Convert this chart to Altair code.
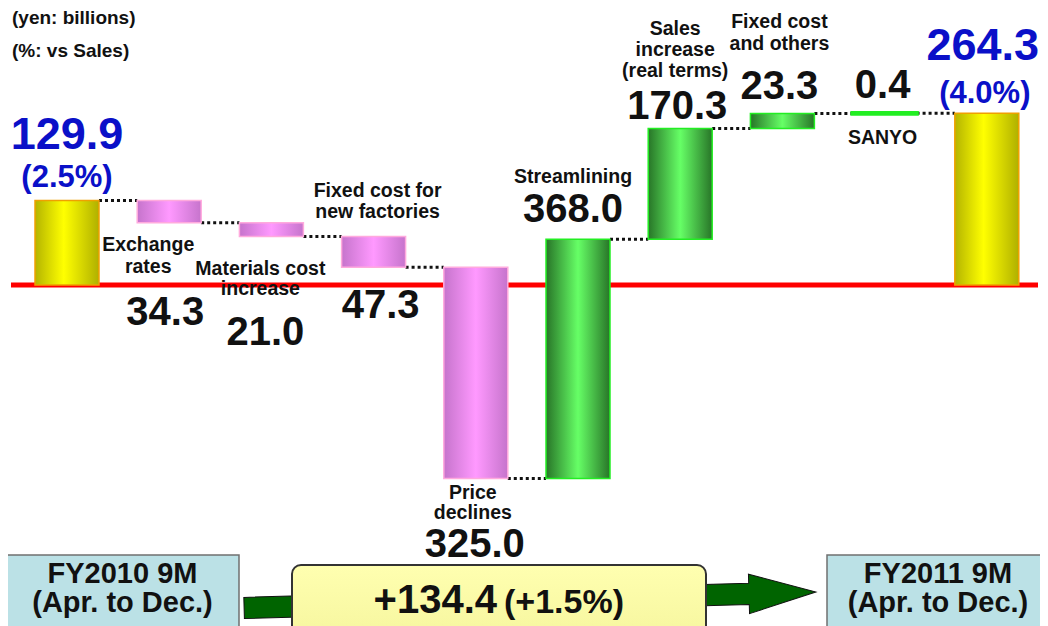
import altair as alt
import pandas as pd

# ---------------- data ----------------
steps = ["FY2010 9M", "Exchange rates", "Materials cost increase",
         "Fixed cost for new factories", "Price declines", "Streamlining",
         "Sales increase (real terms)", "Fixed cost and others", "SANYO", "FY2011 9M"]
amounts = [129.9, -34.3, -21.0, -47.3, -325.0, 368.0, 170.3, 23.3, 0.4, 264.3]
kinds = ["total", "down", "down", "down", "down", "up", "up", "up", "up", "total"]
name_lines = [[], ["Exchange", "rates"], ["Materials cost", "increase"],
              ["Fixed cost for", "new factories"], ["Price", "declines"],
              ["Streamlining"], ["Sales", "increase", "(real terms)"],
              ["Fixed cost", "and others"], ["SANYO"], []]
ratio_labels = {0: "(2.5%)", 9: "(4.0%)"}
unit_notes = ["(yen: billions)", "(%: vs Sales)"]
period_from = ["FY2010 9M", "(Apr. to Dec.)"]
period_to = ["FY2011 9M", "(Apr. to Dec.)"]
change_value = "+134.4"
change_ratio = "(+1.5%)"

# ---------------- layout / style ----------------
W, H = 1032, 618
STEP_PX = 102.2          # distance between bar centres
FIRST_PX = 59            # first bar centre (plot px)
HALF = 0.313             # half bar width in steps
XMIN = -FIRST_PX / STEP_PX
XMAX = XMIN + W / STEP_PX
PX_PER_UNIT = 0.65
ZERO_PX = 277
YMAX = ZERO_PX / PX_PER_UNIT
YMIN = -(H - ZERO_PX) / PX_PER_UNIT
FONT = "Liberation Sans"
BLUE = "#0a10c8"

xs = alt.Scale(domain=[XMIN, XMAX], nice=False, zero=False)
ys = alt.Scale(domain=[YMIN, YMAX], nice=False, zero=False)


def X(f):
    return alt.X(f, type="quantitative", scale=xs, axis=None)


def Y(f):
    return alt.Y(f, type="quantitative", scale=ys, axis=None)


# ---------------- derived tables ----------------
rows = []
level = 0.0
for i, (s, a, k) in enumerate(zip(steps, amounts, kinds)):
    if k == "total":
        start, end = 0.0, a
    else:
        start, end = level, level + a
    level = end
    lo, hi = min(start, end), max(start, end)
    sw = 1.5 if (hi - lo) * PX_PER_UNIT > 4 else 4.5
    rows.append(dict(i=i, step=s, kind=k, start=start, end=end, lo=lo, hi=hi,
                     x0=i - HALF, x1=i + HALF, sw=sw))
bars = pd.DataFrame(rows)

conn = pd.DataFrame([dict(x0=r["i"] + HALF, x1=r["i"] + 1 - HALF, y=r["end"])
                     for r in rows[:-1]])


def anchor(r, a):
    return {"hi": r["hi"], "lo": r["lo"], "zero": 0.0}[a]


# name labels: anchor, first baseline offset px, line spacing px, dx px
name_layout = {1: ("zero", -34, 22, -21), 2: ("zero", -10, 20, -11),
               3: ("hi", -40, 21, 4), 4: ("lo", 20, 20, -3), 5: ("hi", -56, 0, -5),
               6: ("hi", -94, 21, -5), 7: ("hi", -85, 22, -3), 8: ("lo", 31, 0, -2)}
value_layout = {0: ("hi", -52, 0), 1: ("zero", 40, -4), 2: ("zero", 60, -6),
                3: ("zero", 33, 7), 4: ("lo", 78, -1), 5: ("hi", -17, -5),
                6: ("hi", -10, -3), 7: ("hi", -14, -3), 8: ("hi", -15, -2),
                9: ("hi", -53, -4)}
ratio_layout = {0: ("hi", -14, 0), 9: ("hi", -10, -2)}

names = []
for i, lines in enumerate(name_lines):
    if not lines:
        continue
    a, off, sp, dx = name_layout[i]
    for j, t in enumerate(lines):
        names.append(dict(text=t, x=i + dx / STEP_PX,
                          y=anchor(rows[i], a) - (off + j * sp) / PX_PER_UNIT))
names = pd.DataFrame(names)

vals, tots = [], []
for i, amt in enumerate(amounts):
    a, off, dx = value_layout[i]
    d = dict(text=f"{abs(amt):.1f}", x=i + dx / STEP_PX,
             y=anchor(rows[i], a) - off / PX_PER_UNIT)
    (tots if kinds[i] == "total" else vals).append(d)
vals, tots = pd.DataFrame(vals), pd.DataFrame(tots)

ratios = pd.DataFrame([dict(text=t, x=i + ratio_layout[i][2] / STEP_PX,
                            y=anchor(rows[i], ratio_layout[i][0]) - ratio_layout[i][1] / PX_PER_UNIT)
                       for i, t in ratio_labels.items()])


def grad(stops):
    return alt.Gradient(gradient="linear", x1=0, x2=1, y1=0, y2=0,
                        stops=[alt.GradientStop(offset=o, color=c) for o, c in stops])


styles = {
    "total": (grad([(0, "#b4b400"), (0.45, "#ffff00"), (1, "#b0b000")]), "#f0a000"),
    "down": (grad([(0, "#c674cc"), (0.5, "#ff99ff"), (1, "#c674cc")]), "#ffaadd"),
    "up": (grad([(0, "#287528"), (0.5, "#66ff66"), (1, "#287528")]), "#22ee22"),
}

layers = []

# zero line
base = pd.DataFrame({"x0": [XMIN + 3 / STEP_PX], "x1": [XMAX - 2 / STEP_PX], "y": [0.0]})
layers.append(alt.Chart(base).mark_rule(color="#ff0000", strokeWidth=5)
              .encode(x=X("x0"), x2="x1", y=Y("y")))

# connectors
layers.append(alt.Chart(conn).mark_rule(color="#111111", strokeWidth=3, strokeDash=[3, 3])
              .encode(x=X("x0"), x2="x1", y=Y("y")))

# bars
for k, (fill, stroke) in styles.items():
    layers.append(alt.Chart(bars[bars.kind == k]).mark_rect(fill=fill, stroke=stroke)
                  .encode(x=X("x0"), x2="x1", y=Y("lo"), y2="hi",
                          strokeWidth=alt.StrokeWidth("sw:Q", scale=None)))

# labels
layers.append(alt.Chart(names).mark_text(font=FONT, fontWeight="bold", fontSize=19.5,
                                         color="#111111", baseline="alphabetic")
              .encode(x=X("x"), y=Y("y"), text="text"))
layers.append(alt.Chart(vals).mark_text(font=FONT, fontWeight="bold", fontSize=40,
                                        color="#111111", baseline="alphabetic")
              .encode(x=X("x"), y=Y("y"), text="text"))
layers.append(alt.Chart(tots).mark_text(font=FONT, fontWeight="bold", fontSize=45,
                                        color=BLUE, baseline="alphabetic")
              .encode(x=X("x"), y=Y("y"), text="text"))
layers.append(alt.Chart(ratios).mark_text(font=FONT, fontWeight="bold", fontSize=31,
                                          color=BLUE, baseline="alphabetic")
              .encode(x=X("x"), y=Y("y"), text="text"))

# header notes
for j, t in enumerate(unit_notes):
    layers.append(alt.Chart(pd.DataFrame({"t": [t]})).mark_text(
        font=FONT, fontWeight="bold", fontSize=19, color="#111111", align="left",
        baseline="alphabetic").encode(x=alt.value(4), y=alt.value(16 + 33 * j), text="t"))

# bottom: arrow, change box, period boxes
one = pd.DataFrame({"k": [0]})
arrow_path = ("M -1 -0.037 L 0.766 -0.037 L 0.766 -0.069 L 1 0 L 0.766 0.069 "
              "L 0.766 0.037 L -1 0.037 Z")
layers.append(alt.Chart(one).mark_point(shape=arrow_path, size=572 ** 2, filled=True,
                                        fill="#006400", stroke="#111111", strokeWidth=1,
                                        opacity=1, angle=358.4)
              .encode(x=alt.value(522), y=alt.value(592)))

yellow_box = alt.Gradient(gradient="linear", x1=0, x2=0, y1=0, y2=1,
                          stops=[alt.GradientStop(offset=0, color="#ffffb0"),
                                 alt.GradientStop(offset=1, color="#f4f49a")])
layers.append(alt.Chart(one).mark_rect(fill=yellow_box, stroke="#333333", strokeWidth=2,
                                       cornerRadius=9)
              .encode(x=alt.value(284), x2=alt.value(698), y=alt.value(557), y2=alt.value(650)))
layers.append(alt.Chart(pd.DataFrame({"t": [change_value]})).mark_text(
    font=FONT, fontWeight="bold", fontSize=40, color="#111111", align="right",
    baseline="alphabetic").encode(x=alt.value(489), y=alt.value(605), text="t"))
layers.append(alt.Chart(pd.DataFrame({"t": [change_ratio]})).mark_text(
    font=FONT, fontWeight="bold", fontSize=34, color="#111111", align="left",
    baseline="alphabetic").encode(x=alt.value(496), y=alt.value(605), text="t"))

for (x0, x1, cx), lines in [((-2, 231, 114.5), period_from), ((819, 1045, 930), period_to)]:
    layers.append(alt.Chart(one).mark_rect(fill="#bbe1e6", stroke="#707070", strokeWidth=1.5)
                  .encode(x=alt.value(x0), x2=alt.value(x1), y=alt.value(547), y2=alt.value(650)))
    for j, t in enumerate(lines):
        layers.append(alt.Chart(pd.DataFrame({"t": [t]})).mark_text(
            font=FONT, fontWeight="bold", fontSize=29, color="#111111", align="center",
            baseline="alphabetic").encode(x=alt.value(cx), y=alt.value(575 + 29 * j), text="t"))

chart = (alt.layer(*layers)
         .properties(width=W, height=H, autosize="none", padding=0, background="white")
         .configure_view(stroke=None))

chart.save("out.html", embed_options={"renderer": "svg", "actions": False})
